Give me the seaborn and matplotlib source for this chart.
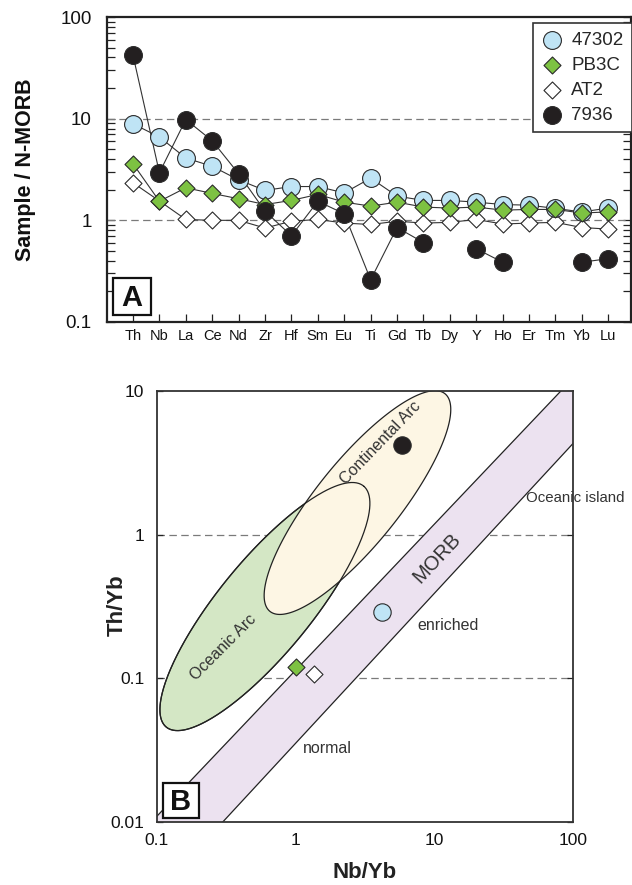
import numpy as np
import pandas as pd
import matplotlib
matplotlib.use("Agg")
import matplotlib.pyplot as plt
from matplotlib.patches import Rectangle
from matplotlib.ticker import FixedLocator, LogLocator, NullLocator, NullFormatter
import seaborn as sns

sns.set_theme(style="white")
plt.rcParams["font.family"] = ["Liberation Sans", "DejaVu Sans"]

# ---------------- data: panel A (Sample / N-MORB) ----------------
elements = ["Th", "Nb", "La", "Ce", "Nd", "Zr", "Hf", "Sm", "Eu", "Ti",
            "Gd", "Tb", "Dy", "Y", "Ho", "Er", "Tm", "Yb", "Lu"]
s47302 = [8.9, 6.6, 4.1, 3.4, 2.5, 1.97, 2.15, 2.15, 1.86, 2.6,
          1.73, 1.57, 1.57, 1.51, 1.43, 1.41, 1.31, 1.21, 1.32]
sPB3C = [3.6, 1.54, 2.09, 1.84, 1.63, 1.43, 1.57, 1.8, 1.51, 1.38,
         1.51, 1.35, 1.32, 1.35, 1.26, 1.28, 1.28, 1.18, 1.21]
sAT2 = [2.34, 1.55, 1.02, 1.0, 1.0, 0.84, 0.98, 1.02, 0.94, 0.91,
        0.98, 0.94, 0.955, 1.02, 0.92, 0.94, 0.955, 0.85, 0.82]
s7936 = [42.0, 2.94, 9.8, 6.06, 2.87, 1.23, 0.705, 1.54, 1.16, 0.26,
         0.85, 0.605, np.nan, 0.525, 0.387, np.nan, np.nan, 0.387, 0.42]

# ---------------- data: panel B (Th/Yb vs Nb/Yb) ----------------
samples = ["47302", "PB3C", "AT2", "7936"]
nb_yb = [4.2, 1.0, 1.35, 5.8]
th_yb = [0.29, 0.119, 0.108, 4.2]

# field outlines (log-decade units): centre (Nb/Yb, Th/Yb), semi-axes, angle
oceanic_arc = dict(centre=(0.60, 0.316), axes=(1.10, 0.33), angle=49.5)
continental_arc = dict(centre=(2.79, 1.673), axes=(0.986, 0.295), angle=50)
# MORB-OIB array boundaries: Th/Yb = c * (Nb/Yb) ** m
morb_upper = (0.114, 1.016)
morb_lower = (0.03535, 1.043)

styles = {
    "47302": dict(marker="o", s=165, color="#bfe4f5", z=4),
    "PB3C": dict(marker="D", s=75, color="#7dc242", z=5),
    "AT2": dict(marker="D", s=75, color="#ffffff", z=3),
    "7936": dict(marker="o", s=165, color="#231f20", z=6),
}
series_a = {"47302": s47302, "PB3C": sPB3C, "AT2": sAT2, "7936": s7936}

W, H = 632, 885
fig = plt.figure(figsize=(W / 100, H / 100), dpi=100)


def fx(px):
    return px / W


def fy(py):
    return 1 - py / H


# ================= Panel A =================
ax1 = fig.add_axes([fx(107), fy(322), (631 - 107) / W, (322 - 17) / H])
ax1.set_yscale("log")
ax1.set_ylim(0.1, 100)
ax1.set_xlim(-0.985, 18.86)
idx = np.arange(len(elements))

for yv in (10, 1):
    ax1.axhline(yv, color="#7a7a7a", lw=0.9, ls=(0, (6, 3.5)), zorder=1)

for name in ["AT2", "47302", "PB3C", "7936"]:
    vals = np.array(series_a[name], dtype=float)
    st = styles[name]
    ax1.plot(idx, vals, color="#333333", lw=0.8, zorder=2)
    df = pd.DataFrame({"x": idx, "y": vals}).dropna()
    sns.scatterplot(data=df, x="x", y="y", ax=ax1, marker=st["marker"], s=st["s"],
                    color=st["color"], edgecolor="#2a2a2a", linewidth=0.8,
                    zorder=st["z"], label=name, legend=False)

ax1.set_xlabel("")
ax1.set_ylabel("")
ax1.set_xticks(idx)
ax1.set_xticklabels(elements, fontsize=10.5, color="#111")
ax1.yaxis.set_major_locator(FixedLocator([0.1, 1, 10, 100]))
ax1.set_yticklabels(["0.1", "1", "10", "100"], fontsize=13.5, color="#111")
ax1.yaxis.set_minor_locator(LogLocator(base=10, subs=np.arange(2, 10)))
ax1.yaxis.set_minor_formatter(NullFormatter())
ax1.tick_params(axis="x", which="both", direction="in", bottom=True, top=False,
                length=6, width=0.9, color="#222", pad=5)
ax1.tick_params(axis="y", which="both", direction="in", left=True, right=True,
                length=6, width=0.9, color="#222", pad=11)
for sp in ax1.spines.values():
    sp.set_linewidth(1.6)
    sp.set_color("#222")

handles, labels = ax1.get_legend_handles_labels()
order = [labels.index(n) for n in samples]
leg = ax1.legend([handles[i] for i in order], [labels[i] for i in order],
                 loc="upper right", bbox_to_anchor=(1.002, 0.98), borderaxespad=0,
                 fontsize=13.5, frameon=True, fancybox=False, framealpha=1,
                 edgecolor="#333", borderpad=0.45, labelspacing=0.42,
                 handletextpad=0.5, handlelength=1.1, scatterpoints=1)
leg.get_frame().set_linewidth(1.2)
leg.set_zorder(10)

fig.text(fx(26), fy(170), "Sample / N-MORB", rotation=90, fontsize=15.5,
         fontweight="bold", ha="center", va="center", color="#111")

# ================= Panel B =================
ax2 = fig.add_axes([fx(157), fy(822), (573 - 157) / W, (822 - 391) / H])
ax2.set_xscale("log")
ax2.set_yscale("log")
ax2.set_xlim(0.1, 100)
ax2.set_ylim(0.01, 10)


def ellipse(field, n=400):
    t = np.linspace(0, 2 * np.pi, n)
    u0, v0 = np.log10(field["centre"][0]), np.log10(field["centre"][1])
    a, b = field["axes"]
    th = np.deg2rad(field["angle"])
    u = u0 + a * np.cos(t) * np.cos(th) - b * np.sin(t) * np.sin(th)
    v = v0 + a * np.cos(t) * np.sin(th) + b * np.sin(t) * np.cos(th)
    return 10 ** u, 10 ** v


for yv in (1, 0.1):
    ax2.axhline(yv, color="#7a7a7a", lw=0.9, ls=(0, (6, 3.5)), zorder=0.5)

# MORB-OIB band
xl = np.array([0.03, 400.0])
up = morb_upper[0] * xl ** morb_upper[1]
lo = morb_lower[0] * xl ** morb_lower[1]
ax2.fill(np.r_[xl, xl[::-1]], np.r_[up, lo[::-1]], facecolor="#ece2f0",
         edgecolor="none", zorder=1)
ax2.plot(xl, up, color="#222", lw=0.9, zorder=1.5)
ax2.plot(xl, lo, color="#222", lw=0.9, zorder=1.5)

gx, gy = ellipse(oceanic_arc)
cx, cy = ellipse(continental_arc)
ax2.fill(gx, gy, facecolor="#d4e7c5", edgecolor="#222", lw=0.9, zorder=2)
ax2.fill(cx, cy, facecolor="#fdf6e4", edgecolor="#222", lw=0.9, zorder=3)
ax2.plot(gx, gy, color="#222", lw=0.9, zorder=3.5)

for i, name in enumerate(samples):
    st = styles[name]
    sns.scatterplot(x=[nb_yb[i]], y=[th_yb[i]], ax=ax2, marker=st["marker"],
                    s=st["s"] * (0.95 if st["marker"] == "o" else 1.0),
                    color=st["color"], edgecolor="#2a2a2a", linewidth=0.8,
                    zorder=6, legend=False)

txt = dict(color="#333", ha="center", va="center")
ax2.text(4.06, 4.33, "Continental Arc", rotation=46, rotation_mode="anchor",
         fontsize=11.5, **txt)
ax2.text(0.30, 0.164, "Oceanic Arc", rotation=45, rotation_mode="anchor",
         fontsize=11.5, **txt)
ax2.text(10.45, 0.687, "MORB", rotation=47, rotation_mode="anchor",
         fontsize=14.5, **txt)
ax2.text(12.5, 0.235, "enriched", fontsize=11.5, **txt)
ax2.text(1.68, 0.0327, "normal", fontsize=11.5, **txt)
ax2.text(46, 1.8, "Oceanic island", fontsize=10.8, color="#333", ha="left",
         va="center", clip_on=False)

ax2.set_xlabel("")
ax2.set_ylabel("")
ax2.xaxis.set_major_locator(FixedLocator([0.1, 1, 10, 100]))
ax2.set_xticklabels(["0.1", "1", "10", "100"], fontsize=12.5, color="#111")
ax2.yaxis.set_major_locator(FixedLocator([0.01, 0.1, 1, 10]))
ax2.set_yticklabels(["0.01", "0.1", "1", "10"], fontsize=12.5, color="#111")
ax2.xaxis.set_minor_locator(NullLocator())
ax2.yaxis.set_minor_locator(NullLocator())
ax2.tick_params(axis="x", which="both", bottom=True, top=False, length=0, pad=8)
ax2.tick_params(axis="y", which="both", direction="in", left=True, right=True,
                length=4, width=0.9, color="#222", pad=9)
for sp in ax2.spines.values():
    sp.set_linewidth(1.3)
    sp.set_color("#333")
    sp.set_zorder(7)

fig.text(fx(365), fy(872), "Nb/Yb", fontsize=16, fontweight="bold",
         ha="center", va="center", color="#222")
fig.text(fx(117), fy(605), "Th/Yb", rotation=90, fontsize=16,
         fontweight="bold", ha="center", va="center", color="#222")

# panel letters
for (x0, y0, x1, y1, letter) in [(113, 278, 151, 315, "A"), (163, 783, 199, 818, "B")]:
    fig.add_artist(Rectangle((fx(x0), fy(y1)), (x1 - x0) / W, (y1 - y0) / H,
                             transform=fig.transFigure, facecolor="white",
                             edgecolor="#111", lw=1.6, zorder=20))
    fig.text(fx((x0 + x1) / 2), fy((y0 + y1) / 2 + 1), letter, fontsize=21,
             fontweight="bold", ha="center", va="center", color="#111", zorder=21)

fig.savefig("out.png", dpi=100)
